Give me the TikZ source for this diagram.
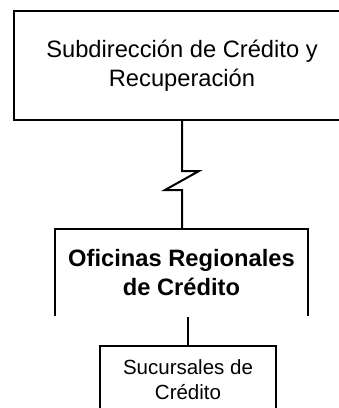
\documentclass[tikz,border=0pt]{standalone}
\usepackage{fontspec}
\setmainfont{Liberation Sans}
\begin{document}
\begin{tikzpicture}[x=1pt,y=-1pt,
  line width=2pt,
  orgbox/.style={draw, rectangle, align=center, inner sep=0pt},
  bigtext/.style={font=\fontsize{23.7}{28.5}\selectfont},
  smalltext/.style={font=\fontsize{20.5}{25}\selectfont}]
\useasboundingbox (0,0) rectangle (339,408);
\clip (0,0) rectangle (339,408);
\node[orgbox, bigtext, minimum width=336pt, minimum height=109pt] (top) at (182,65.5)
  {Subdirección de Crédito y\\Recuperación};
\node[align=center, inner sep=0pt, bigtext, minimum width=251pt, minimum height=85pt] (mid) at (181.5,272.5)
  {\textbf{Oficinas Regionales}\\\textbf{de Crédito}};
\draw (mid.south west) -- (mid.north west) -- (mid.north east) -- (mid.south east);
\node[orgbox, smalltext, minimum width=176pt, minimum height=68pt] (bot) at (188,380)
  {Sucursales de\\Crédito};
\coordinate (z1) at (182,171);
\coordinate (z2) at (199,171);
\coordinate (z3) at (165,190);
\coordinate (z4) at (182,190);
\draw[line join=miter] (top.south) -- (z1) -- (z2) -- (z3) -- (z4) -- (top.south |- mid.north);
\coordinate (b1) at (188,317);
\draw (b1) -- (bot.north);
\end{tikzpicture}
\end{document}
